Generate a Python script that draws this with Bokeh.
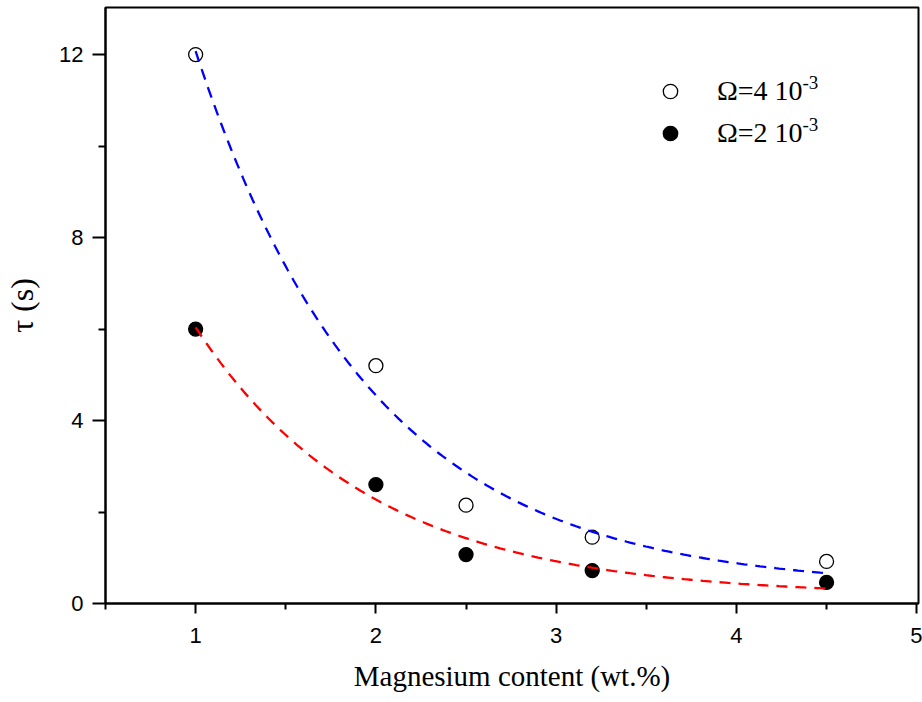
import numpy as np
from bokeh.plotting import figure
from bokeh.models import FixedTicker, Legend, LegendItem, Label, Range1d
from bokeh.embed import file_html
from bokeh.resources import INLINE

# ---- data ----
mg_content = [1.0, 2.0, 2.5, 3.2, 4.5]
tau_omega4 = [12.0, 5.2, 2.15, 1.45, 0.92]
tau_omega2 = [6.0, 2.6, 1.07, 0.72, 0.46]
series_labels = ["Ω=4 10", "Ω=2 10"]
exponent_label = "-3"
x_label = "Magnesium content (wt.%)"
y_label = "τ (s)"
x_ticks = [1, 2, 3, 4, 5]
x_minor_ticks = [0.5, 1.5, 2.5, 3.5, 4.5]
y_ticks = [0, 4, 8, 12]
y_minor_ticks = [2, 6, 10]


def exp_decay_fit(x, y):
    """Least-squares fit of y = y0 + A*exp(-(x-x0)/t) to the data."""
    x = np.asarray(x, dtype=float)
    y = np.asarray(y, dtype=float)
    best = None
    for t in np.arange(0.1, 6.0, 0.002):
        B = np.column_stack([np.ones_like(x), np.exp(-(x - x[0]) / t)])
        coef, *_ = np.linalg.lstsq(B, y, rcond=None)
        sse = float(np.sum((B @ coef - y) ** 2))
        if best is None or sse < best[0]:
            best = (sse, t, coef)
    _, t, (y0, A) = best
    xs = np.linspace(x[0], x[-1], 200)
    return xs, y0 + A * np.exp(-(xs - x[0]) / t)


fit4_x, fit4_y = exp_decay_fit(mg_content, tau_omega4)
fit2_x, fit2_y = exp_decay_fit(mg_content, tau_omega2)

p = figure(width=922, height=702,
           x_range=Range1d(0.5, 5.01), y_range=Range1d(0, 13.03),
           output_backend="svg", toolbar_location=None,
           min_border_left=105, min_border_right=4,
           min_border_top=7, min_border_bottom=99)
p.grid.visible = False
p.outline_line_color = "black"
p.outline_line_width = 2
p.background_fill_color = "white"
p.border_fill_color = "white"

# markers
r4 = p.scatter(mg_content, tau_omega4, size=14, marker="circle",
               fill_color="white", line_color="black", line_width=1.3)
r2 = p.scatter(mg_content, tau_omega2, size=14, marker="circle",
               fill_color="black", line_color="black", line_width=1.3)

# fitted curves
p.line(fit4_x, fit4_y, line_color="#0000ff", line_width=2.3, line_dash="11 8")
p.line(fit2_x, fit2_y, line_color="#ff0000", line_width=2.3, line_dash="11 8")

# axes
xa = p.xaxis[0]
xa.ticker = FixedTicker(ticks=x_ticks, minor_ticks=x_minor_ticks)
ya = p.yaxis[0]
ya.ticker = FixedTicker(ticks=y_ticks, minor_ticks=y_minor_ticks)
for ax in (xa, ya):
    ax.axis_line_width = 2
    ax.major_tick_line_width = 2
    ax.minor_tick_line_width = 2
    ax.major_tick_in = 0
    ax.minor_tick_in = 0
    ax.major_label_text_font = "Liberation Sans"
    ax.major_label_text_font_size = "22px"
    ax.major_label_text_color = "black"
    ax.axis_label_text_font = "Liberation Serif"
    ax.axis_label_text_font_style = "normal"
    ax.axis_label_text_color = "black"

xa.major_tick_out = 10
xa.minor_tick_out = 6
xa.major_label_standoff = 14
xa.axis_label = x_label
xa.axis_label_text_font_size = "29px"
xa.axis_label_standoff = 14

ya.major_tick_out = 13
ya.minor_tick_out = 7
ya.major_label_standoff = 9
ya.axis_label = y_label
ya.axis_label_text_font_size = "32px"
ya.axis_label_standoff = 16

# legend
legend = Legend(items=[LegendItem(label=series_labels[0], renderers=[r4]),
                       LegendItem(label=series_labels[1], renderers=[r2])],
                location=(547, 452), orientation="vertical",
                glyph_width=36, glyph_height=36, label_height=36,
                label_standoff=29, spacing=6, padding=0, margin=0,
                border_line_alpha=0, background_fill_alpha=0,
                label_text_font="Liberation Serif",
                label_text_font_size="28px", label_text_color="black")
p.add_layout(legend)

for yy in (521, 479):
    p.add_layout(Label(x=697, y=yy, x_units="screen", y_units="screen",
                       text=exponent_label, text_font="Liberation Serif",
                       text_font_size="19px", text_color="black",
                       text_baseline="alphabetic"))

open("out.html", "w").write(file_html(p, INLINE))
